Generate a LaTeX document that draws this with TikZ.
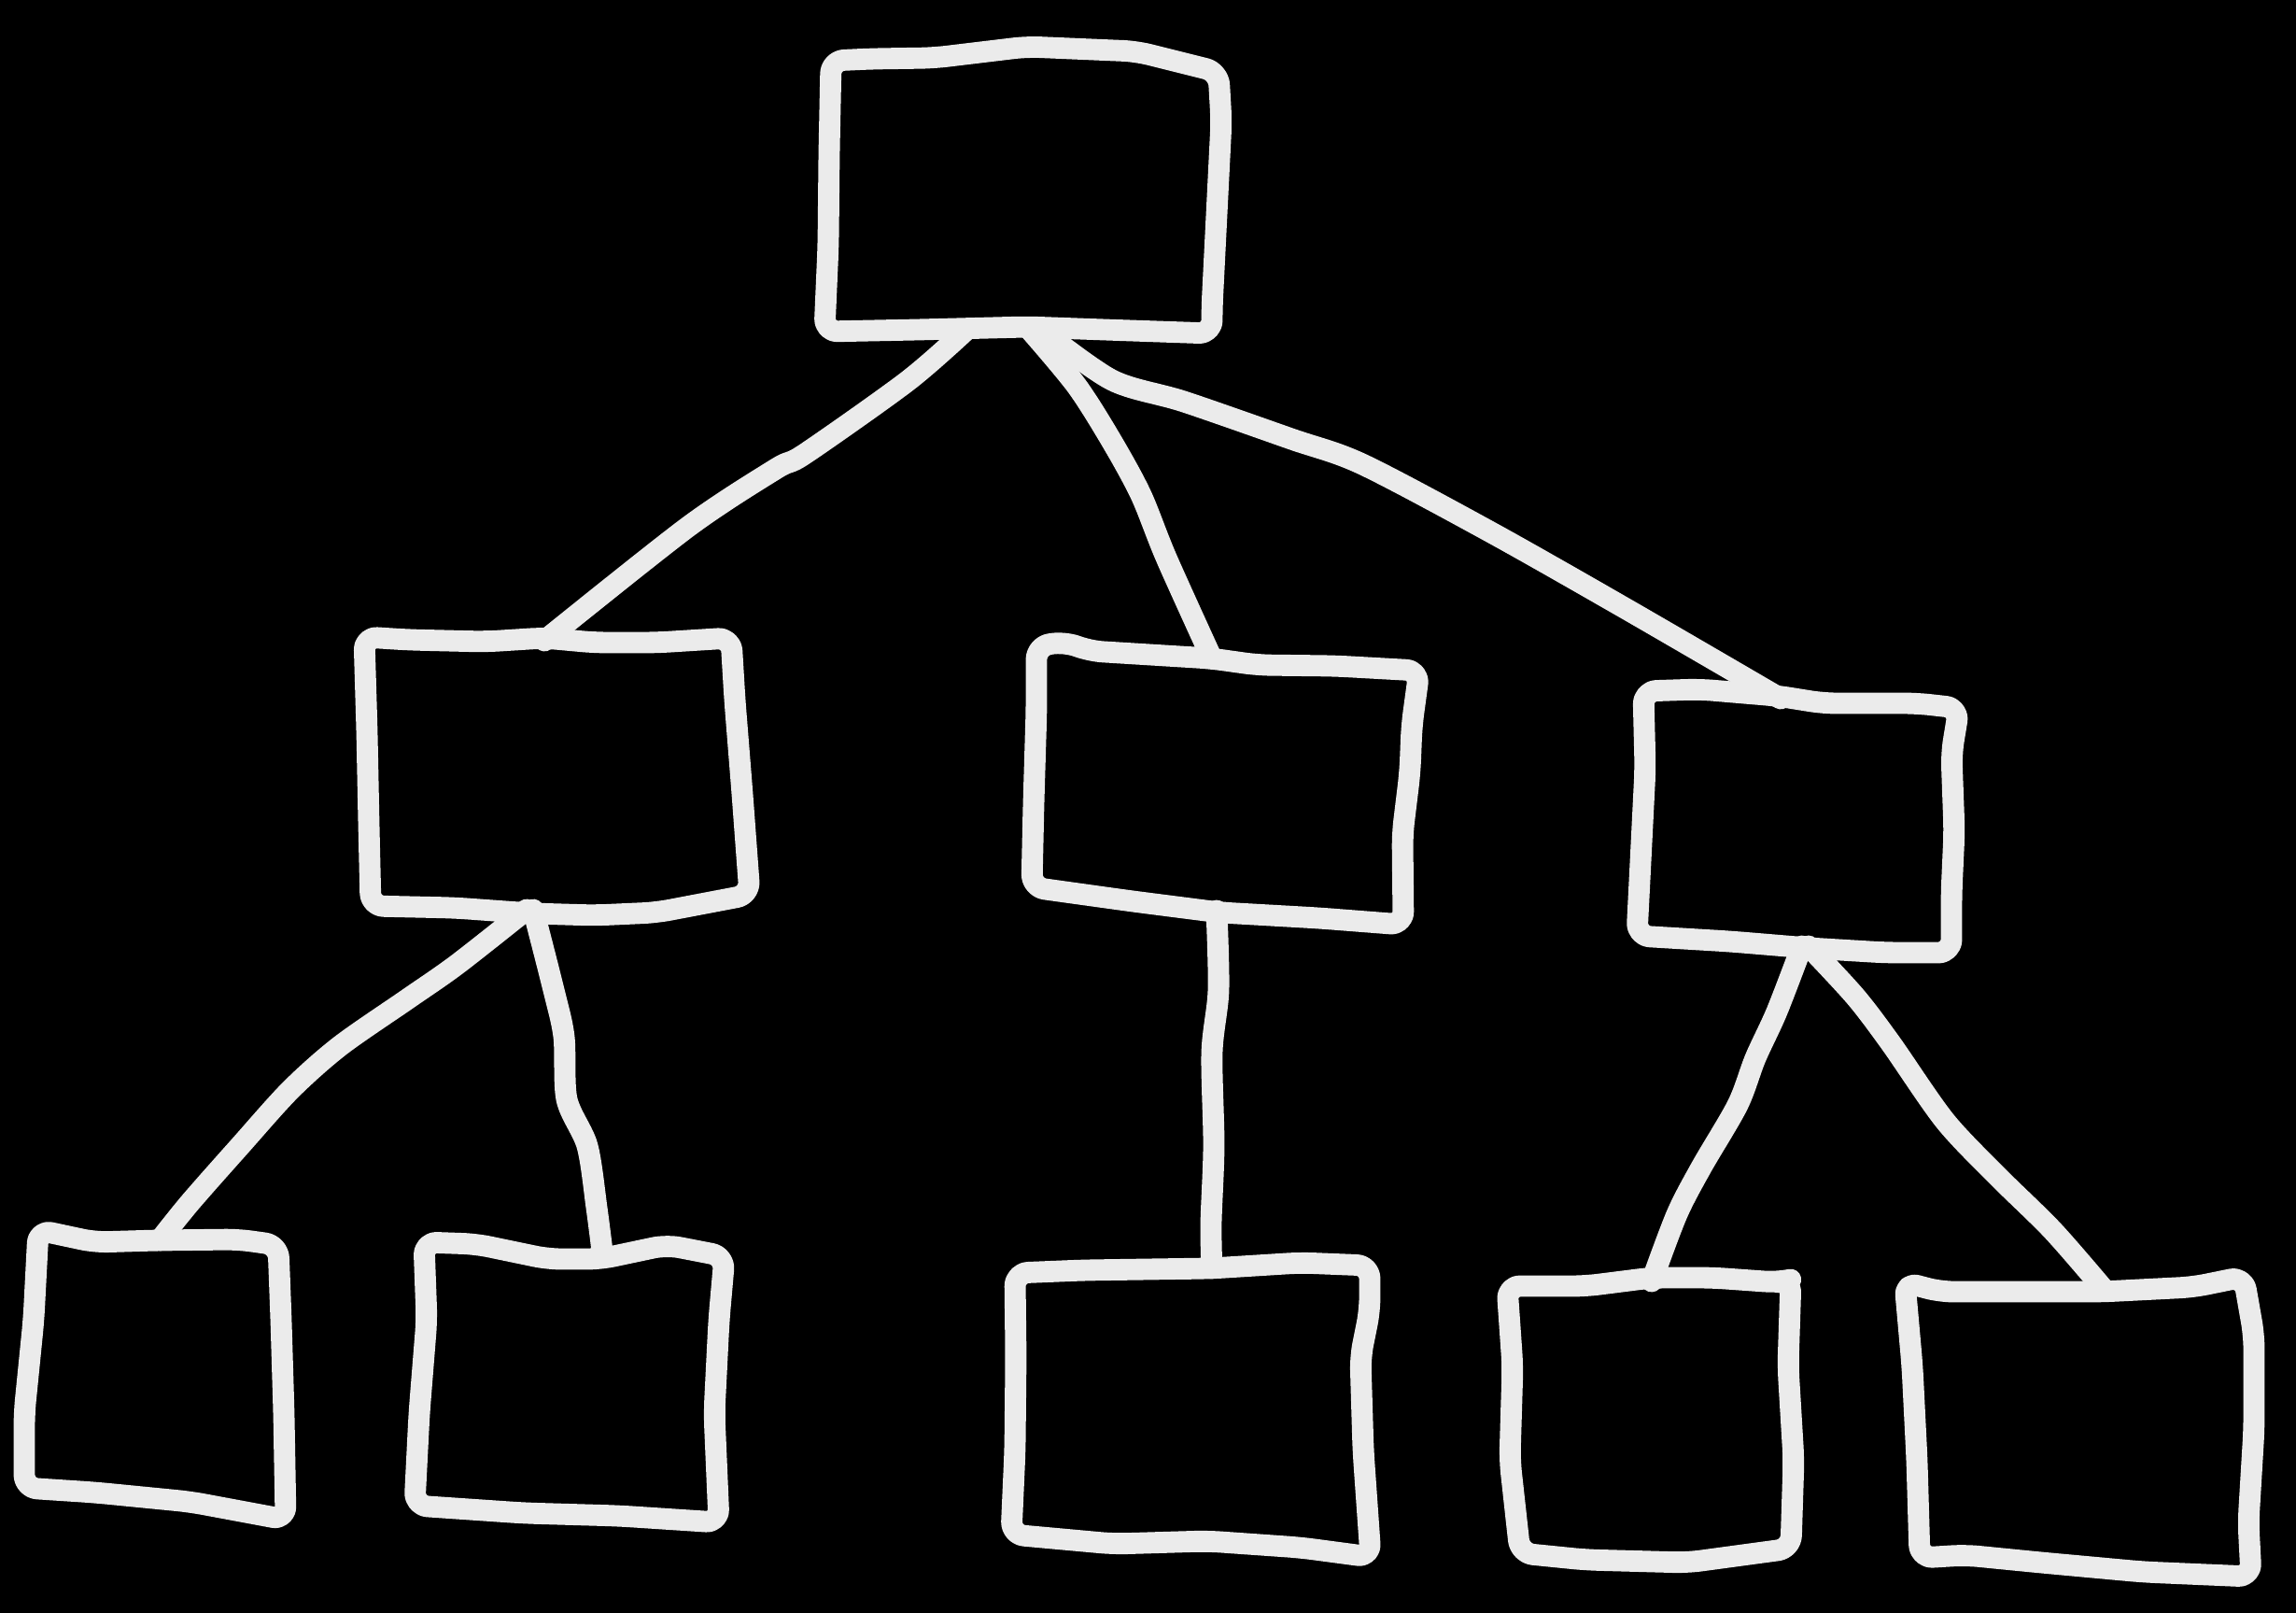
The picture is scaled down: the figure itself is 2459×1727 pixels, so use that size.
\documentclass[tikz,border=0pt]{standalone}
\usetikzlibrary{calc,fit}
\definecolor{chalk}{RGB}{235,235,235}
\begin{document}
\begin{tikzpicture}[x=0.01cm,y=-0.01cm,
  pen/.style={draw=chalk,line width=6.5pt,line cap=round,line join=round},
  frame/.style={pen,rounded corners=4pt},
  slot/.style={inner sep=0pt,outer sep=0pt,draw=none}]
% black board
\fill[black] (0,0) rectangle (2459,1727);

% ---------- box frames (named, invisible) ----------
\node[slot,fit={(887,56) (1303,353)}]    (root) {};
\node[slot,fit={(393,686) (795,974)}]    (ml)   {};
\node[slot,fit={(1108,703) (1510,975)}]  (mc)   {};
\node[slot,fit={(1758,748) (2093,1013)}] (mr)   {};
\node[slot,fit={(28,1328) (302,1605)}]   (b1)   {};
\node[slot,fit={(452,1340) (770,1620)}]  (b2)   {};
\node[slot,fit={(1086,1358) (1463,1655)}] (b3)  {};
\node[slot,fit={(1618,1372) (1918,1667)}] (b4)  {};
\node[slot,fit={(2050,1378) (2411,1678)}] (b5)  {};

% ---------- hand-drawn outlines ----------
\draw[frame] (890,65) -- (933,63) -- (1000,62) -- (1100,50) -- (1217,55) -- (1305,77)
  -- (1308,130) -- (1303,230) -- (1298,330) -- (1298,357)
  -- (1183,353) -- (1100,350) -- (983,353) -- (883,355)
  -- (887,263) -- (888,163) -- cycle;
\draw[frame] (390,682) -- (437,685) -- (520,687) -- (583,683) -- (637,688) -- (703,688) -- (783,683)
  -- (787,750) -- (795,850) -- (803,958)
  -- (703,977) -- (637,980) -- (570,978) -- (487,972) -- (397,970)
  -- (395,883) -- (393,783) -- cycle;
\draw[frame] (1110,692) -- (1140,687) -- (1167,697) -- (1297,705) -- (1347,712) -- (1430,713) -- (1520,718)
  -- (1512,777) -- (1510,827) -- (1502,893) -- (1503,990)
  -- (1413,983) -- (1307,977) -- (1213,965) -- (1105,950)
  -- (1107,860) -- (1110,760) -- cycle;
\draw[frame] (1760,740) -- (1820,738) -- (1903,745) -- (1953,753) -- (2053,753) -- (2098,758)
  -- (2090,807) -- (2093,890) -- (2090,957) -- (2090,1020)
  -- (2020,1020) -- (1937,1015) -- (1853,1008) -- (1753,1002)
  -- (1757,923) -- (1762,823) -- cycle;
\draw[frame] (41,1317) -- (102,1330) -- (168,1328) -- (255,1327) -- (298,1333)
  -- (301,1413) -- (304,1513) -- (306,1627)
  -- (204,1608) -- (102,1598) -- (26,1593)
  -- (26,1513) -- (36,1413) -- cycle;
\draw[frame] (454,1330) -- (510,1332) -- (587,1348) -- (643,1348) -- (714,1333) -- (776,1345)
  -- (770,1413) -- (765,1513) -- (770,1630)
  -- (663,1623) -- (561,1620) -- (444,1612)
  -- (449,1513) -- (457,1413) -- cycle;
\draw[frame] (1087,1363) -- (1160,1360) -- (1297,1358) -- (1393,1352) -- (1467,1355)
  -- (1467,1403) -- (1457,1453) -- (1460,1553) -- (1468,1667)
  -- (1393,1657) -- (1293,1650) -- (1193,1653) -- (1083,1643)
  -- (1087,1553) -- (1088,1453) -- cycle;
\draw[frame] (1614,1377) -- (1698,1377) -- (1769,1368) -- (1834,1368) -- (1904,1373) -- (1918,1370)
  -- (1915,1463) -- (1921,1563) -- (1918,1658)
  -- (1807,1673) -- (1698,1670) -- (1628,1663)
  -- (1617,1563) -- (1620,1463) -- cycle;
\draw[frame] (2040,1373) -- (2078,1383) -- (2251,1383) -- (2349,1378) -- (2403,1367)
  -- (2414,1430) -- (2414,1530) -- (2408,1630) -- (2411,1688)
  -- (2295,1683) -- (2186,1673) -- (2105,1665) -- (2056,1668)
  -- (2053,1563) -- (2048,1463) -- cycle;

% ---------- connectors ----------
\draw[pen] plot[smooth,tension=0.5] coordinates {
  ($(root.south west)!.356!(root.south east)$) (972,408) (862,486) (831,502) (737,564)
  ($(ml.north west)!.473!(ml.north east)$)};
\draw[pen] plot[smooth,tension=0.5] coordinates {
  ($(root.south west)!.519!(root.south east)$) (1153,413) (1191,473) (1222,530) (1249,597)
  ($(mc.north west)!.470!(mc.north east)$)};
\draw[pen] plot[smooth,tension=0.5] coordinates {
  ($(root.south west)!.548!(root.south east)$) (1191,407) (1268,430) (1383,470) (1459,497)
  (1597,570) (1740,651) ($(mr.north west)!.445!(mr.north east)$)};
\draw[pen] plot[smooth,tension=0.5] coordinates {
  ($(ml.south west)!.425!(ml.south east)$) (489,1033) (436,1070) (364,1120) (311,1167)
  (257,1227) (204,1287) ($(b1.north west)!.522!(b1.north east)$)};
\draw[pen] plot[smooth,tension=0.5] coordinates {
  ($(ml.south west)!.443!(ml.south east)$) (593,1060) (604,1110) (607,1177) (629,1227)
  (639,1293) ($(b2.north west)!.607!(b2.north east)$)};
\draw[pen] plot[smooth,tension=0.5] coordinates {
  ($(mc.south west)!.485!(mc.south east)$) (1305,1060) (1298,1127) (1300,1227) (1297,1310)
  ($(b3.north west)!.562!(b3.north east)$)};
\draw[pen] plot[smooth,tension=0.5] coordinates {
  ($(mr.south west)!.513!(mr.south east)$) (1903,1083) (1880,1133) (1861,1183) (1822,1250)
  (1796,1300) ($(b4.north west)!.503!(b4.north east)$)};
\draw[pen] plot[smooth,tension=0.5] coordinates {
  ($(mr.south west)!.534!(mr.south east)$) (1987,1067) (2025,1117) (2083,1200) (2140,1260)
  (2198,1317) ($(b5.north west)!.557!(b5.north east)$)};
\end{tikzpicture}
\end{document}
